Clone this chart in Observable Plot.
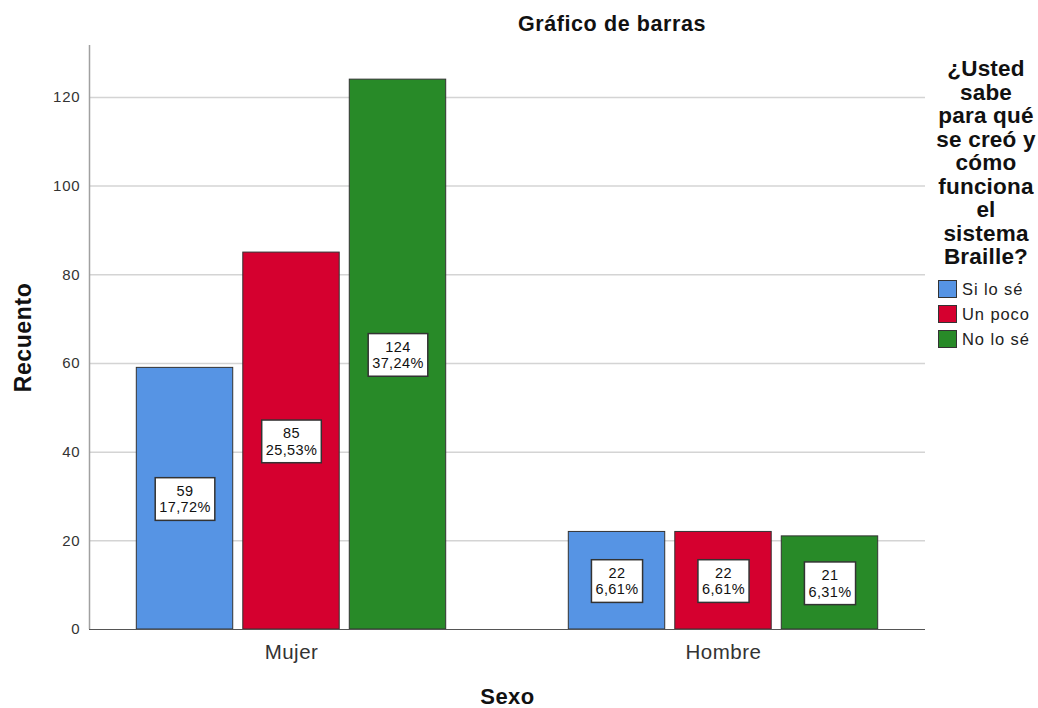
<!DOCTYPE html>
<html><head><meta charset="utf-8">
<script src="https://cdn.jsdelivr.net/npm/d3@7"></script>
<script src="https://cdn.jsdelivr.net/npm/@observablehq/plot@0.6"></script>
<style>
body{margin:0;background:#fff;font-family:"Liberation Sans",Arial,sans-serif;}
#wrap{position:relative;width:1038px;height:708px;overflow:hidden;}
#title{position:absolute;top:12px;left:462px;width:300px;text-align:center;font-weight:bold;font-size:21.5px;letter-spacing:0.6px;color:#111;}
#legend{position:absolute;left:926px;top:57px;width:120px;color:#111;}
#legend .lt{font-weight:bold;font-size:22.5px;line-height:23.5px;text-align:center;letter-spacing:0.2px;}
#legend .it{display:flex;align-items:center;height:25px;font-size:16.5px;margin-left:12px;color:#222;letter-spacing:0.9px}
#legend .sw{width:17px;height:16px;border:1px solid #333;margin-right:5px;}
#chart{position:absolute;left:0;top:0;}
svg text{font-family:"Liberation Sans",Arial,sans-serif;}
[aria-label="y-axis label"] text{font-weight:bold;font-size:23px;letter-spacing:0.6px;fill:#111;}
[aria-label="x-axis label"] text{font-weight:bold;font-size:22px;letter-spacing:0.5px;fill:#111;}
[aria-label="y-axis tick label"] text{letter-spacing:0.8px;}
[aria-label="x-axis tick label"] text{letter-spacing:0.5px;}
g[aria-label="text"] text{letter-spacing:0.4px;}
</style></head>
<body>
<div id="wrap">
<div id="chart"></div>
<div id="title">Gráfico de barras</div>
<div id="legend"></div>
</div>
<script>
const sexos = ["Mujer", "Hombre"];
const respuestas = ["Si lo sé", "Un poco", "No lo sé"];
const recuentoMujer = [59, 85, 124];
const recuentoHombre = [22, 22, 21];
const colores = ["#5694E4", "#D5002F", "#288A28"];
const yTicks = [0, 20, 40, 60, 80, 100, 120];
const tituloLeyenda = ["¿Usted", "sabe", "para qué", "se creó y", "cómo", "funciona", "el", "sistema", "Braille?"];

const total = d3.sum(recuentoMujer) + d3.sum(recuentoHombre);
const recuentos = [recuentoMujer, recuentoHombre];
const table = [];
sexos.forEach((s, g) => respuestas.forEach((r, c) => {
  const n = recuentos[g][c];
  table.push({sexo: s, respuesta: r, g, c, n,
    pct: (n / total * 100).toFixed(2).replace(".", ",") + "%"});
}));

const step = 0.2465, half = 0.1116, xPad = 0.4676;
const cx = d => d.g + (d.c - 1) * step;

const plot = Plot.plot({
  width: 1038, height: 708,
  marginLeft: 89, marginRight: 113, marginTop: 45, marginBottom: 79,
  x: {domain: [-xPad, 1 + xPad]},
  y: {domain: [0, 131.7]},
  color: {domain: respuestas, range: colores},
  marks: [
    Plot.ruleY(yTicks.filter(t => t > 0), {stroke: "#d4d4d4", strokeWidth: 1.5}),
    Plot.ruleX([-xPad], {stroke: "#a0a0a0", strokeWidth: 1.5}),
    Plot.rectY(table, {x1: d => cx(d) - half, x2: d => cx(d) + half, y1: 0, y2: "n",
      fill: "respuesta", stroke: "#333", strokeWidth: 1}),
    Plot.ruleY([0], {stroke: "#555", strokeWidth: 1}),
    Plot.text(table, {x: cx, y: d => d.n / 2, text: d => `${d.n}\n${d.pct}`,
      fontSize: 14.5, lineHeight: 1.15, fill: "#111"}),
    Plot.axisY({ticks: yTicks, tickSize: 0, tickPadding: 9, fontSize: 15, fill: "#333",
      label: "Recuento", labelAnchor: "center", labelArrow: "none", labelOffset: 75}),
    Plot.axisX({ticks: [0, 1], tickFormat: i => sexos[i], tickSize: 0, tickPadding: 15,
      fontSize: 20.5, fill: "#333", label: "Sexo", labelAnchor: "center", labelArrow: "none", labelOffset: 74})
  ]
});
document.getElementById("chart").appendChild(plot);

// white boxes behind the value labels
d3.select(plot).selectAll('g[aria-label="text"] text').each(function() {
  const b = this.getBBox();
  const px = 4, py = 5;
  const r = document.createElementNS("http://www.w3.org/2000/svg", "rect");
  this.parentNode.insertBefore(r, this);
  d3.select(r)
    .attr("x", b.x - px).attr("y", b.y - py)
    .attr("width", b.width + 2 * px).attr("height", b.height + 2 * py)
    .attr("fill", "#fff").attr("stroke", "#333").attr("stroke-width", 1.5)
    .attr("transform", this.getAttribute("transform"));
});

const leg = d3.select("#legend");
leg.append("div").attr("class", "lt").html(tituloLeyenda.join("<br>"));
leg.append("div").style("height", "8px");
respuestas.forEach((r, i) => {
  const it = leg.append("div").attr("class", "it");
  it.append("div").attr("class", "sw").style("background", colores[i]);
  it.append("span").text(r);
});
</script>
</body></html>
